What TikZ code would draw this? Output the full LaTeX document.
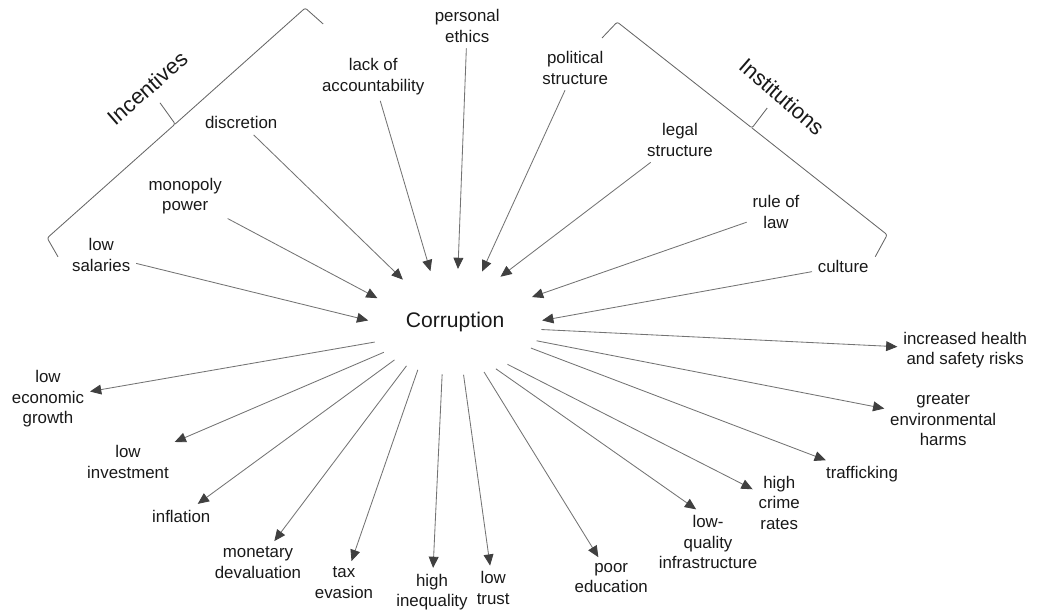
\documentclass[tikz,border=0pt]{standalone}
\usepackage{fontspec}
\setmainfont{Liberation Sans}
\usetikzlibrary{arrows.meta, shapes.geometric}

\tikzset{
  lbl/.style={align=center, inner sep=4pt, text=black!90,
    font=\fontsize{12}{14.6}\selectfont},
  grp/.style={inner sep=0pt, text=black!90, font=\fontsize{15.5}{18}\selectfont},
  arr/.style={-{Triangle[length=8pt,width=7pt,color=black!75]}, draw=black!55, line width=0.6pt},
  brk/.style={draw=black!60, line width=0.6pt, rounded corners=1.5pt}
}

\begin{document}
\begin{tikzpicture}
    \useasboundingbox (0,0) rectangle (26.6,15.3);
    \node (corr) at (11.38,7.25) [ellipse, minimum width=4.35cm, minimum height=2.65cm,
      inner sep=0pt, outer sep=0pt, text=black!90, font=\fontsize{15}{18}\selectfont] {Corruption};
    % causes
    \node (sal) at (2.53,8.93) [lbl] {low\\salaries};
    \node (mono) at (4.63,10.40) [lbl] {monopoly\\power};
    \node (disc) at (6.03,12.23) [lbl] {discretion};
    \node (acct) at (9.33,13.38) [lbl] {lack of\\accountability};
    \node (eth) at (11.68,14.65) [lbl] {personal\\ethics};
    \node (pol) at (14.38,13.60) [lbl] {political\\structure};
    \node (legal) at (17.00,11.80) [lbl] {legal\\structure};
    \node (rule) at (19.40,10.00) [lbl] {rule of\\law};
    \node (cult) at (21.08,8.65) [lbl] {culture};
    % consequences
    \node (grow) at (1.20,5.33) [lbl] {low\\economic\\growth};
    \node (inv) at (3.20,3.75) [lbl] {low\\investment};
    \node (infl) at (4.53,2.40) [lbl] {inflation};
    \node (deval) at (6.45,1.23) [lbl] {monetary\\devaluation};
    \node (tax) at (8.60,0.73) [lbl] {tax\\evasion};
    \node (ineq) at (10.80,0.50) [lbl] {high\\inequality};
    \node (trust) at (12.33,0.60) [lbl] {low\\trust};
    \node (edu) at (15.28,0.85) [lbl] {poor\\education};
    \node (infra) at (17.70,1.75) [lbl] {low-\\quality\\infrastructure};
    \node (crime) at (19.48,2.73) [lbl] {high\\crime\\rates};
    \node (traf) at (21.55,3.45) [lbl] {trafficking};
    \node (env) at (23.58,4.80) [lbl] {greater\\environmental\\harms};
    \node (risk) at (24.13,6.55) [lbl] {increased health\\and safety risks};
    % groups
    \node (inc) at (3.68,13.10) [grp, rotate=41] {Incentives};
    \node (inst) at (19.55,12.88) [grp, rotate=-41] {Institutions};
    \draw [brk] (1.45,8.88) -- (1.18,9.35) -- (4.38,12.20) -- (4.00,12.73);
    \draw [brk] (4.38,12.20) -- (7.63,15.10) -- (8.08,14.70);
    \draw [brk] (15.05,14.35) -- (15.43,14.75) -- (18.80,12.10) -- (19.18,12.60);
    \draw [brk] (18.80,12.10) -- (22.18,9.43) -- (21.88,8.88);
    % arrows in
    \draw [arr] (sal) -- (corr.179);
    \draw [arr] (mono) -- (corr.163);
    \draw [arr] (disc) -- (corr.141);
    \draw [arr] (acct) -- (corr.116);
    \draw [arr] (eth) -- (corr.87);
    \draw [arr] (pol) -- (corr.62);
    \draw [arr] (legal) -- (corr.45);
    \draw [arr] (rule) -- (corr.18);
    \draw [arr] (cult) -- (corr.1);
    % arrows out
    \draw [arr] (corr.194) -- (grow);
    \draw [arr] (corr.203) -- (inv);
    \draw [arr] (corr.212) -- (infl);
    \draw [arr] (corr.222) -- (deval);
    \draw [arr] (corr.232) -- (tax);
    \draw [arr] (corr.256) -- (ineq);
    \draw [arr] (corr.279) -- (trust);
    \draw [arr] (corr.300) -- (edu);
    \draw [arr] (corr.311) -- (infra.110);
    \draw [arr] (corr.321) -- (crime);
    \draw [arr] (corr.341) -- (traf);
    \draw [arr] (corr.347) -- (env);
    \draw [arr] (corr.355) -- (risk);
\end{tikzpicture}
\end{document}
